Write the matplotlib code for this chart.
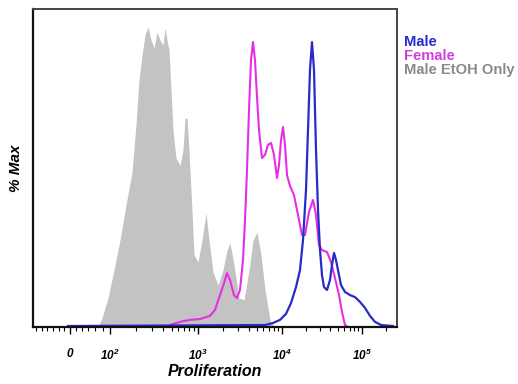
import numpy as np
import matplotlib
matplotlib.use("Agg")
import matplotlib.pyplot as plt

plt.rcParams['font.family'] = ['Liberation Sans', 'DejaVu Sans']
plt.rcParams['mathtext.fontset'] = 'custom'
plt.rcParams['mathtext.rm'] = 'Liberation Sans:italic:bold'
plt.rcParams['mathtext.it'] = 'Liberation Sans:italic:bold'

# x in display channels (biexponential axis), y in % of max
etoh_x = [65, 69, 75, 81, 87, 93, 99, 103, 106, 109, 112, 115, 118, 121, 124, 127,
          130, 132, 134, 136, 138, 140, 143, 147, 150, 152, 154, 156, 158, 161, 165,
          169, 173, 176, 180, 185, 190, 194, 197, 201, 206, 211, 216, 220, 224, 228,
          232, 237, 241]
etoh_y = [0, 3.2, 10.2, 20.0, 30.5, 42.8, 54.4, 70.9, 86.7, 95.4, 102.5, 105.3, 100.7,
          97.9, 103.5, 100.7, 98.9, 104.9, 100.7, 97.2, 83.2, 69.1, 59.3, 56.8, 62.1,
          73.3, 73.3, 62.1, 48.1, 25.3, 22.8, 30.5, 40.0, 30.5, 19.3, 14.7, 20.0, 27.0,
          29.5, 21.8, 10.2, 9.5, 20.0, 30.5, 33.3, 25.3, 13.0, 2.5, 0]

female_x = [137, 147, 157, 167, 177, 182, 187, 191, 194, 197, 201, 204, 207, 210, 212,
            214, 216, 218, 220, 222, 224, 226, 229, 232, 235, 238, 241, 244, 246, 248,
            250, 252, 254, 257, 261, 265, 269, 272, 276, 280, 283, 286, 289, 294, 298,
            302, 306, 309, 312, 315]
female_y = [0.7, 1.8, 2.5, 2.8, 3.9, 6.0, 11.2, 15.4, 18.9, 16.5, 11.2, 10.2, 13.0,
            23.5, 37.5, 55.1, 76.1, 93.7, 100, 93.7, 80.7, 69.1, 59.3, 60.4, 63.9, 64.6,
            60.4, 52.3, 56.8, 65.6, 70.2, 63.9, 53.3, 49.5, 46.3, 39.3, 32.3, 32.3, 40.4,
            44.6, 39.3, 28.8, 27.0, 26.3, 22.8, 17.2, 11.2, 5.3, 0.7, 0]

male_x = [35, 232, 240, 247, 253, 258, 263, 267, 270, 273, 275, 277, 279, 281, 283,
          285, 287, 289, 291, 294, 297, 299, 301, 303, 305, 308, 312, 317, 322, 327,
          332, 337, 342, 348, 360]
male_y = [0.35, 0.7, 1.4, 2.5, 4.6, 8.4, 14.0, 20.0, 30.5, 48.1, 69.1, 90.2, 100,
          90.2, 62.1, 41.1, 27.0, 18.2, 14.0, 13.0, 16.5, 21.8, 26.0, 23.5, 20.0, 14.7,
          12.3, 11.2, 10.5, 8.8, 6.7, 3.9, 1.8, 0.7, 0.35]

tick_pos = [37, 77, 165, 249, 329]
tick_labels = ['0', r'$10^2$', r'$10^3$', r'$10^4$', r'$10^5$']

fig = plt.figure(figsize=(5.18, 3.84), dpi=100)
ax = fig.add_axes([33 / 518, 57 / 384, 364 / 518, 318 / 384])

ax.fill_between(etoh_x, etoh_y, 0, color='#c3c3c3', lw=0)
ax.plot(female_x, female_y, color='#e62ee6', lw=1.5, solid_joinstyle='round')
ax.plot(male_x, male_y, color='#2a2ac8', lw=1.6, solid_joinstyle='round')

ax.set_xlim(0, 364)
ax.set_ylim(0, 111.6)
ax.set_yticks([])

# minor ticks: log spacing inside each decade, a few linear ones near zero
minor = [3, 9, 14, 20, 26, 31, 43, 49, 55, 62, 70]
for a, b in zip(tick_pos[1:-1], tick_pos[2:]):
    for m in range(2, 10):
        minor.append(a + (b - a) * np.log10(m))
for m in range(2, 6):
    minor.append(329 + 80 * np.log10(m))
ax.set_xticks([m for m in minor if m < 364], minor=True)
ax.set_xticks(tick_pos, tick_labels)
ax.tick_params(axis='x', which='major', length=5, width=1, pad=10, labelsize=8.5,
               direction='out')
ax.tick_params(axis='x', which='minor', length=3, width=0.8, direction='out')
for lab in ax.get_xticklabels():
    lab.set_fontstyle('italic')
    lab.set_fontweight('bold')

for side in ['left', 'bottom']:
    ax.spines[side].set_linewidth(1.6)
    ax.spines[side].set_color('#111111')
for side in ['top', 'right']:
    ax.spines[side].set_linewidth(1.4)
    ax.spines[side].set_color('#444444')

ax.set_xlabel('Proliferation', fontsize=11.5, fontweight='bold', fontstyle='italic',
              labelpad=1)
ax.set_ylabel('% Max', fontsize=11, fontweight='bold', fontstyle='italic', labelpad=7)

legend_names = ['Male', 'Female', 'Male EtOH Only']
legend_colors = ['#2a2ad0', '#d040d8', '#8a8a8a']
for i, (name, col) in enumerate(zip(legend_names, legend_colors)):
    fig.text(404 / 518, 1 - (42 + 14 * i) / 384, name, color=col, fontsize=10.6,
             fontweight='bold', va='center', ha='left')

fig.savefig('out.png', dpi=100)
